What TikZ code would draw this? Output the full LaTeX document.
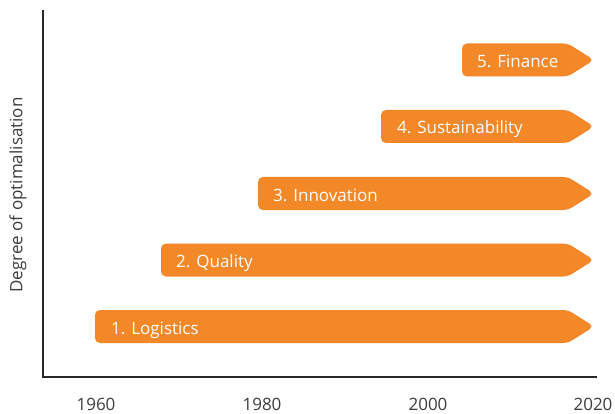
\documentclass[tikz,border=0pt]{standalone}
\usepackage{fontspec}
\setmainfont{Open Sans}
\definecolor{barorange}{RGB}{243,136,41}
\definecolor{axisgray}{RGB}{40,40,40}
\definecolor{labelgray}{RGB}{60,60,60}
\begin{document}
\begin{tikzpicture}[x=1pt,y=-1pt,
  bar/.style={fill=barorange,draw=none,rounded corners=5pt},
  barlabel/.style={anchor=base west,inner sep=0pt,text=white,font=\fontsize{17}{20}\selectfont},
  ticklabel/.style={anchor=center,inner sep=0pt,text=labelgray,font=\fontsize{17}{20}\selectfont},
  axisline/.style={draw=axisgray,line width=1.3pt}]
\useasboundingbox (0,0) rectangle (615,414);
% axes
\coordinate (ytop) at (43,10);
\coordinate (origin) at (43,377);
\coordinate (xend) at (597,377);
\draw[axisline] (ytop) -- (origin) -- (xend);
\node[rotate=90,anchor=center,inner sep=0pt,text=labelgray,font=\fontsize{17}{20}\selectfont] (ylab) at (18,195) {Degree of optimalisation};
% tick labels
\node[ticklabel] (t1960) at (96,404) {1960};
\node[ticklabel] (t1980) at (262,404) {1980};
\node[ticklabel] (t2000) at (428,404) {2000};
\node[ticklabel] (t2020) at (593,404) {2020};
% bars
\newcommand{\barshape}[3]{% left, top, bottom
  \fill[bar] (#1,{(#2+#3)/2}) |- (568,#2) -- (594,{(#2+#3)/2}) -- (568,#3) -| cycle;}
\barshape{95}{310}{343}
\node[barlabel] (b1) at (111,334) {1. Logistics};
\barshape{161}{243.5}{276.5}
\node[barlabel] (b2) at (176,267.5) {2. Quality};
\barshape{258}{177}{210}
\node[barlabel] (b3) at (273,201) {3. Innovation};
\barshape{381}{110}{143}
\node[barlabel] (b4) at (397,134) {4. Sustainability};
\barshape{462}{43.5}{76.5}
\node[barlabel] (b5) at (477,67.5) {5. Finance};
\end{tikzpicture}
\end{document}
